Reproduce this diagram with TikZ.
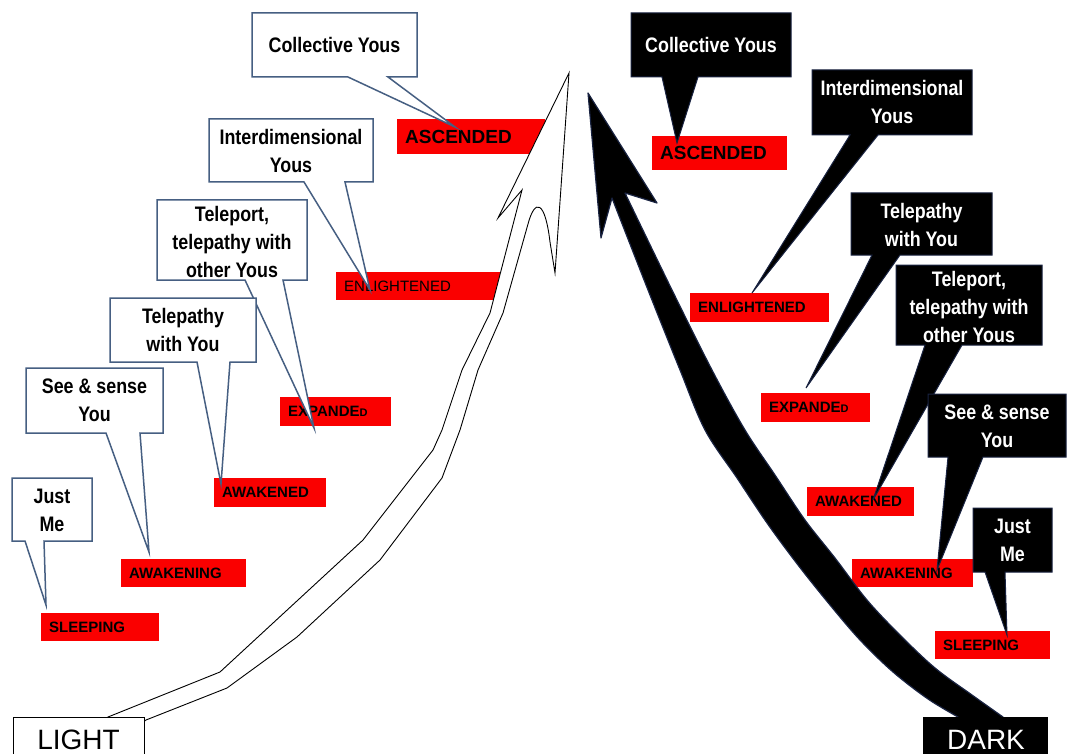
\documentclass[tikz,border=0pt]{standalone}
\usepackage{fontspec}
\setmainfont{Liberation Sans}
\newfontfamily\condfont[FakeStretch=0.85]{Liberation Sans}
\definecolor{lred}{RGB}{250,0,0}
\definecolor{bubblue}{RGB}{70,95,130}
\definecolor{edgenavy}{RGB}{25,35,65}
\newcommand{\wbubble}[8]{\draw[wbub] (#1,#2) -- (#3,#2) -- (#3,#4) -- (#6,#4) -- (#7,#8) -- (#5,#4) -- (#1,#4) -- cycle;}
\newcommand{\bbubble}[8]{\draw[bbub] (#1,#2) -- (#3,#2) -- (#3,#4) -- (#6,#4) -- (#7,#8) -- (#5,#4) -- (#1,#4) -- cycle;}
\begin{document}
\begin{tikzpicture}[x=1pt,y=-1pt,
  redbox/.style={fill=lred, anchor=north west, inner xsep=8pt, inner ysep=0pt, align=left, text=black},
  lab/.style={font=\bfseries\fontsize{15}{15}\selectfont},
  labreg/.style={font=\fontsize{15}{15}\selectfont},
  labbig/.style={font=\bfseries\fontsize{19}{19}\selectfont},
  wbub/.style={fill=white, draw=bubblue, line width=1.5pt, line join=miter},
  bbub/.style={fill=black, draw=edgenavy, line width=1pt, line join=miter},
  ltext/.style={font=\condfont\bfseries\fontsize{21}{28}\selectfont, align=center, text=black, inner sep=0pt},
  rtext/.style={font=\condfont\bfseries\fontsize{21}{28}\selectfont, align=center, text=white, inner sep=0pt},
  warrow/.style={fill=white, draw=black, line width=0.9pt, line join=miter},
  barrow/.style={fill=black, draw=edgenavy, line width=1.2pt, line join=round},
]
\useasboundingbox (0,0) rectangle (1068,754);
\fill[white] (0,0) rectangle (1068,754);

% ---- red stage labels (left) ----
\node[redbox, labbig, minimum width=148pt, minimum height=35pt, text width=132pt] (lasc) at (397,119) {ASCENDED};
\node[redbox, labreg, minimum width=164pt, minimum height=28pt, text width=148pt] (lenl) at (336,272) {ENLIGHTENED};
\node[redbox, lab, minimum width=111pt, minimum height=29pt, text width=95pt] (lexp) at (280,397) {EXPANDE{\fontsize{11}{11}\selectfont D}};
\node[redbox, lab, minimum width=112pt, minimum height=29pt, text width=96pt] (lawd) at (214,478) {AWAKENED};
\node[redbox, lab, minimum width=125pt, minimum height=28pt, text width=109pt] (lawg) at (121,559) {AWAKENING};
\node[redbox, lab, minimum width=118pt, minimum height=28pt, text width=102pt] (lslp) at (41,613) {SLEEPING};

% ---- red stage labels (right) ----
\node[redbox, labbig, minimum width=135pt, minimum height=34pt, text width=119pt] (rasc) at (652,136) {ASCENDED};
\node[redbox, lab, minimum width=139pt, minimum height=29pt, text width=123pt] (renl) at (690,293) {ENLIGHTENED};
\node[redbox, lab, minimum width=109pt, minimum height=29pt, text width=93pt] (rexp) at (761,393) {EXPANDE{\fontsize{11}{11}\selectfont D}};
\node[redbox, lab, minimum width=107pt, minimum height=29pt, text width=91pt] (rawd) at (807,487) {AWAKENED};
\node[redbox, lab, minimum width=121pt, minimum height=28pt, text width=105pt] (rawg) at (852,559) {AWAKENING};
\node[redbox, lab, minimum width=115pt, minimum height=28pt, text width=99pt] (rslp) at (935,631) {SLEEPING};

% ---- white (light) arrow ----
\draw[warrow] (95,724) -- (108,717) -- (220,672) -- (363,540) -- (433,450) -- (442,430)
  -- (462,370) -- (490,313) -- (522,190) -- (498,218) -- (569,73) -- (555,273)
  -- (550,242) .. controls (545,200) and (535,198) .. (528,224)
  -- (503,313) -- (478,370) -- (460,430) -- (442,478) -- (380,560) -- (297,637)
  -- (227,688) -- (146,720) -- (135,728) -- cycle;

% ---- black (dark) arrow ----
\draw[barrow] (588,93) -- (657,203) -- (625,193)
  -- plot[smooth, tension=0.55] coordinates {(625,193) (672,290) (712,370) (745,430) (775,475)
       (805,520) (835,558) (867,600) (900,635) (935,668) (972,695) (1003,717)}
  -- (1004,728) -- (958,728)
  -- plot[smooth, tension=0.55] coordinates {(958,717) (928,699) (893,672) (860,640) (830,605)
       (798,565) (767,523) (737,478) (705,430) (680,370) (648,290) (612,198)}
  -- (601,238) -- cycle;

% ---- left callouts ----
\wbubble{252}{13}{417}{77}{348}{388}{455}{127}
\node[ltext] (lcoll) at (334.5,45) {Collective Yous};
\wbubble{209}{119}{373}{182}{304}{345}{370}{290}
\node[ltext] (linter) at (291,151) {Interdimensional\\Yous};
\wbubble{157}{200}{307}{280}{245}{283}{314}{428}
\node[ltext] (ltele) at (232,242) {Teleport,\\telepathy with\\other Yous};
\wbubble{110}{298}{256}{362}{197}{230}{221}{484}
\node[ltext] (ltelyou) at (183,330) {Telepathy\\with You};
\wbubble{26}{368}{163}{433}{106}{140}{149}{552}
\node[ltext] (lsee) at (94.5,400) {See \& sense\\You};
\wbubble{12}{478}{92}{541}{25}{44}{46}{605}
\node[ltext] (ljust) at (52,510) {Just\\Me};

% ---- right callouts ----
\bbubble{631}{13}{791}{77}{662}{698}{677}{143}
\node[rtext] (rcoll) at (711,45) {Collective Yous};
\bbubble{812}{70}{972}{135}{850}{878}{752}{293}
\node[rtext] (rinter) at (892,102) {Interdimensional\\Yous};
\bbubble{851}{193}{992}{255}{872}{900}{806}{388}
\node[rtext] (rtelyou) at (921.5,225) {Telepathy\\with You};
\bbubble{896}{265}{1042}{345}{925}{962}{873}{500}
\node[rtext] (rtele) at (969,307) {Teleport,\\telepathy with\\other Yous};
\bbubble{928}{394}{1066}{457}{948}{983}{937}{570}
\node[rtext] (rsee) at (997,426) {See \& sense\\You};
\bbubble{973}{508}{1052}{572}{985}{1005}{1007}{635}
\node[rtext] (rjust) at (1012.5,540) {Just\\Me};

% ---- LIGHT / DARK ----
\draw[fill=white, draw=black, line width=0.8pt] (13,717) rectangle (144,760);
\node[font=\fontsize{28}{28}\selectfont, text=black, inner sep=0pt] (light) at (78.5,740) {LIGHT};
\fill[black] (923,717) rectangle (1048,760);
\node[font=\fontsize{28}{28}\selectfont, text=white, inner sep=0pt] (dark) at (986,740) {DARK};
\end{tikzpicture}
\end{document}
